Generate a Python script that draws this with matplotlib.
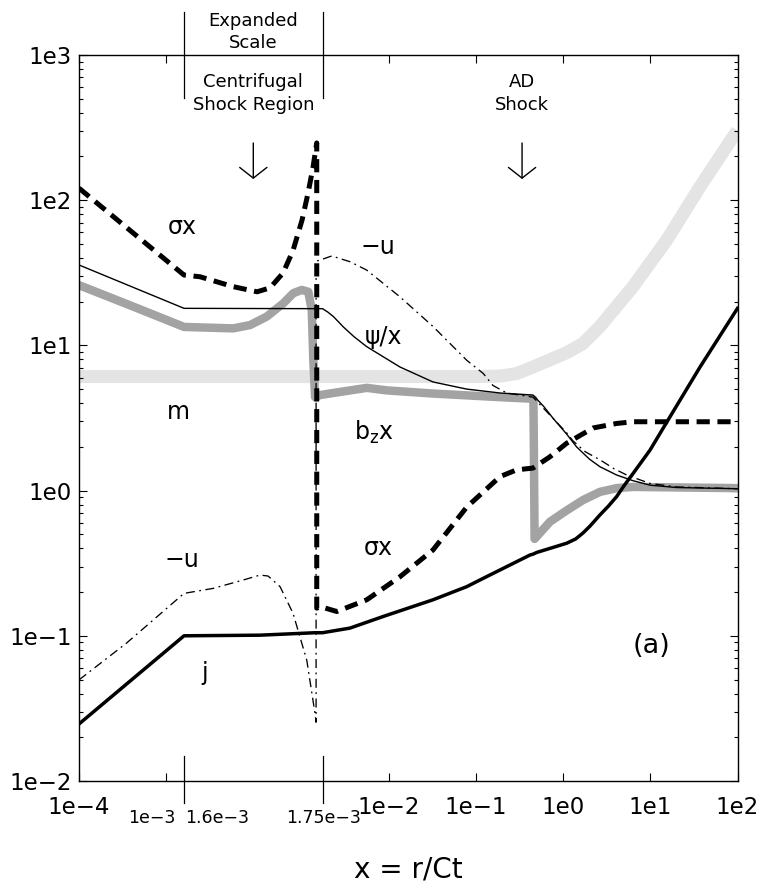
import numpy as np
import matplotlib
matplotlib.use('Agg')
import matplotlib.pyplot as plt
from matplotlib.ticker import FixedLocator, FixedFormatter, NullLocator, LogLocator, NullFormatter

plt.rcParams['font.family'] = ['DejaVu Sans']
plt.rcParams['mathtext.default'] = 'regular'
plt.rcParams['lines.scale_dashes'] = False

# ---------------- data ----------------
m_x = [1e-4, 1e-3, 1.75e-3, 1e-2, 1e-1, 0.19, 0.294, 0.453, 1.10, 1.69, 2.65, 6.34, 15.4, 37.2, 88.9, 100]
m_y = [6.1, 6.1, 6.1, 6.1, 6.1, 6.15, 6.4, 7.1, 8.9, 10.3, 13.5, 25.4, 53, 124, 273, 300]

bz_x = [1e-4, 4.19e-4, 1.6e-3, 1.6531e-3, 1.6715e-3, 1.6896e-3, 1.7075e-3, 1.7184e-3, 1.7275e-3,
        1.7346e-3, 1.7383e-3, 1.7400e-3, 1.7419e-3, 1.7473e-3, 2.31e-3, 5.62e-3, 9.53e-3, 3.23e-2,
        0.19, 0.418, 0.458, 0.472, 0.708, 1.10, 1.69, 2.65, 4.12, 6.34, 100]
bz_y = [26, 18.5, 13.4, 13.1, 13.8, 15.8, 19.5, 22.9, 24.1,
        23.4, 17.5, 7.9, 4.4, 4.55, 4.7, 5.1, 4.9, 4.66,
        4.4, 4.3, 4.25, 0.465, 0.61, 0.73, 0.86, 0.98, 1.04, 1.06, 1.04]

psi_x = [1e-4, 1.6e-3, 1.75e-3, 2.0e-3, 2.33e-3, 3.03e-3, 4.0e-3, 5.62e-3, 1.35e-2, 3.23e-2, 7.87e-2, 0.19, 0.453,
         0.60, 0.768, 1.10, 1.43, 2.0, 2.65, 4.12, 6.34, 9.93, 20, 100]
psi_y = [35.8, 18.0, 17.9, 17.0, 15.8, 13.4, 11.5, 9.8, 7.1, 5.6, 5.0, 4.7, 4.55,
         3.8, 3.15, 2.45, 2.0, 1.65, 1.46, 1.28, 1.17, 1.09, 1.05, 1.03]

u_x = [1e-4, 3.5e-4, 1.6e-3, 1.6314e-3, 1.6639e-3, 1.6823e-3, 1.6910e-3, 1.7040e-3, 1.7180e-3,
       1.7329e-3, 1.7419e-3, 1.7430e-3, 1.7430e-3, 1.7473e-3, 2.23e-3, 3.61e-3, 5.62e-3, 1.35e-2,
       3.23e-2, 7.87e-2, 0.122, 0.157, 0.226, 0.453, 1.10, 1.30, 1.8, 2.65, 3.8, 5.37, 9.93, 20, 100]
u_y = [0.0497, 0.089, 0.196, 0.212, 0.242, 0.262, 0.258, 0.218, 0.143,
       0.068, 0.029, 0.0254, 38.0, 38.7, 41.3, 37.7, 33, 21.6,
       13.5, 7.9, 6.4, 5.3, 4.7, 4.4, 2.5, 2.2, 1.85, 1.63, 1.42, 1.28, 1.12, 1.06, 1.03]

sig_x = [1e-4, 1.6e-3, 1.6173e-3, 1.6531e-3, 1.6791e-3, 1.6931e-3, 1.7072e-3, 1.7180e-3, 1.7278e-3,
         1.7343e-3, 1.7397e-3, 1.7437e-3, 1.7437e-3, 1.7473e-3, 2.55e-3, 5.62e-3, 1.35e-2, 3.23e-2,
         7.87e-2, 0.19, 0.294, 0.453, 0.708, 1.10, 2.21, 4.12, 6.34, 100]
sig_y = [121, 30.5, 29.7, 25.4, 23.4, 24.9, 31.5, 45, 73,
         112, 169, 248, 0.155, 0.159, 0.147, 0.177, 0.255, 0.39,
         0.77, 1.25, 1.39, 1.43, 1.71, 2.12, 2.7, 2.9, 2.98, 2.98]

j_x = [1e-4, 1.6e-3, 1.6823e-3, 1.7419e-3, 1.75e-3, 3.61e-3, 8.72e-3, 3.23e-2, 7.87e-2, 0.122,
       0.418, 0.453, 0.499, 0.708, 1.10, 1.40, 1.69, 2.04, 2.65, 3.3, 4.12, 5.0, 6.34, 9.93, 15.4, 37.2, 100]
j_y = [0.0247, 0.1, 0.101, 0.105, 0.105, 0.113, 0.136, 0.177, 0.218, 0.249,
       0.36, 0.365, 0.375, 0.40, 0.434, 0.465, 0.51, 0.57, 0.68, 0.78, 0.91, 1.08, 1.31, 1.9, 2.95, 7.1, 18]

x_ticks = [1e-4, 1e-3, 1e-2, 1e-1, 1e0, 1e1, 1e2]
x_ticklabels = ['1e\u22124', '', '1e\u22122', '1e\u22121', '1e0', '1e1', '1e2']
y_ticks = [1e-2, 1e-1, 1e0, 1e1, 1e2, 1e3]
y_ticklabels = ['1e\u22122', '1e\u22121', '1e0', '1e1', '1e2', '1e3']

# ---------------- piecewise x scale ----------------
X0, XA, XB = 1e-4, 1.6e-3, 1.75e-3
W = 1.588                      # width of expanded region, in decades
UA = np.log10(XA / X0)
UB = UA + W


def fwd(x):
    x = np.asarray(x, dtype=float)
    with np.errstate(divide='ignore', invalid='ignore'):
        xs = np.where(x > 0, x, 1e-300)
        left = np.log10(xs / X0)
        mid = UA + (x - XA) / (XB - XA) * W
        right = UB + np.log10(xs / XB)
    return np.where(x <= XA, left, np.where(x <= XB, mid, right))


def inv(u):
    u = np.asarray(u, dtype=float)
    with np.errstate(over='ignore', invalid='ignore'):
        left = X0 * np.power(10.0, np.clip(u, -300, 300))
        mid = XA + (u - UA) / W * (XB - XA)
        right = XB * np.power(10.0, np.clip(u - UB, -300, 300))
    return np.where(u <= UA, left, np.where(u <= UB, mid, right))


fig = plt.figure(figsize=(7.61, 8.86), dpi=100)
ax = fig.add_axes([79 / 761, 1 - 781 / 886, 658.5 / 761, 726 / 886])
ax.set_xscale('function', functions=(fwd, inv))
ax.set_yscale('log')
ax.set_xlim(1e-4, 1e2)
ax.set_ylim(1e-2, 1e3)

# curves
ax.plot(m_x, m_y, color='#e4e4e4', lw=9.4, solid_capstyle='butt', solid_joinstyle='round', zorder=1)
ax.plot(bz_x, bz_y, color='#a3a3a3', lw=6.1, solid_capstyle='round', solid_joinstyle='round', zorder=2)
ax.plot(psi_x, psi_y, color='k', lw=1.0, zorder=3)
ax.plot(u_x, u_y, color='k', lw=0.95, dashes=(6.5, 3.2, 1.3, 3.2), zorder=3)
ax.plot(sig_x, sig_y, color='k', lw=3.6, dashes=(9.5, 5.5), dash_capstyle='butt', zorder=4)
ax.plot(j_x, j_y, color='k', lw=2.5, solid_joinstyle='round', zorder=5)

# axes formatting
ax.xaxis.set_major_locator(FixedLocator(x_ticks))
ax.xaxis.set_major_formatter(FixedFormatter(x_ticklabels))
ax.xaxis.set_minor_locator(NullLocator())
ax.yaxis.set_major_locator(FixedLocator(y_ticks))
ax.yaxis.set_major_formatter(FixedFormatter(y_ticklabels))
ax.yaxis.set_minor_locator(LogLocator(base=10, subs=np.arange(2, 10)))
ax.yaxis.set_minor_formatter(NullFormatter())
ax.tick_params(which='both', direction='in', top=True, right=True, width=0.8)
ax.tick_params(which='major', length=5.5, labelsize=16.5)
ax.tick_params(which='minor', length=3)
ax.tick_params(axis='x', pad=11)
ax.tick_params(axis='y', pad=5)
for s in ax.spines.values():
    s.set_linewidth(1.0)

xtr = ax.get_xaxis_transform()

# expanded-region boundary markers
for xv in (XA, XB):
    ax.plot([xv, xv], [1.0592, 0.9408], transform=xtr, clip_on=False, color='k', lw=0.9)
    ax.plot([xv, xv], [0.0344, -0.0303], transform=xtr, clip_on=False, color='k', lw=0.9)

# small tick labels
ax.annotate('1e\u22123', xy=(1e-3, 0), xycoords=xtr, xytext=(6.5, -30.2), textcoords='offset points',
            ha='right', va='baseline', fontsize=12.5)
ax.annotate('1.6e\u22123', xy=(XA, 0), xycoords=xtr, xytext=(0.7, -30.2), textcoords='offset points',
            ha='left', va='baseline', fontsize=12.5)
ax.annotate('1.75e\u22123', xy=(XB, 0), xycoords=xtr, xytext=(1.0, -30.2), textcoords='offset points',
            ha='center', va='baseline', fontsize=12.5)

# top annotations
xc1 = 1.675e-3
xc2 = 0.339
for txt, xv, yv in [('Expanded', xc1, 1.0473), ('Scale', xc1, 1.0161),
                    ('Centrifugal', xc1, 0.9628), ('Shock Region', xc1, 0.9311),
                    ('AD', xc2, 0.9628), ('Shock', xc2, 0.9311)]:
    ax.text(xv, yv, txt, transform=xtr, ha='center', va='center', fontsize=13, clip_on=False)

for xv in (xc1, xc2):
    ax.annotate('', xy=(xv, 0.8292), xytext=(xv, 0.8788), xycoords=xtr, textcoords=xtr,
                arrowprops=dict(arrowstyle='->,head_length=0.55,head_width=0.7', lw=1.0, color='k',
                                shrinkA=0, shrinkB=0, mutation_scale=14))

# curve labels
labels = [('\u03c3x', 0.1564, 0.7631), ('\u2212u', 0.4541, 0.7355),
          ('\u03c8/x', 0.4621, 0.612), ('m', 0.1503, 0.5083),
          ('\u03c3x', 0.4541, 0.3209), ('\u2212u', 0.156, 0.3044),
          ('j', 0.1913, 0.1488)]
for txt, fx, fy in labels:
    ax.text(fx, fy, txt, transform=ax.transAxes, ha='center', va='center', fontsize=17)
ax.text(0.448, 0.4697, r'b$_{z}$x', transform=ax.transAxes, ha='center', va='baseline', fontsize=17)
ax.text(0.8697, 0.186, '(a)', transform=ax.transAxes, ha='center', va='center', fontsize=19.5)

fig.text(408 / 761, 1 - 877 / 886, 'x = r/Ct', ha='center', va='baseline', fontsize=20)

fig.savefig('out.png', dpi=100)
